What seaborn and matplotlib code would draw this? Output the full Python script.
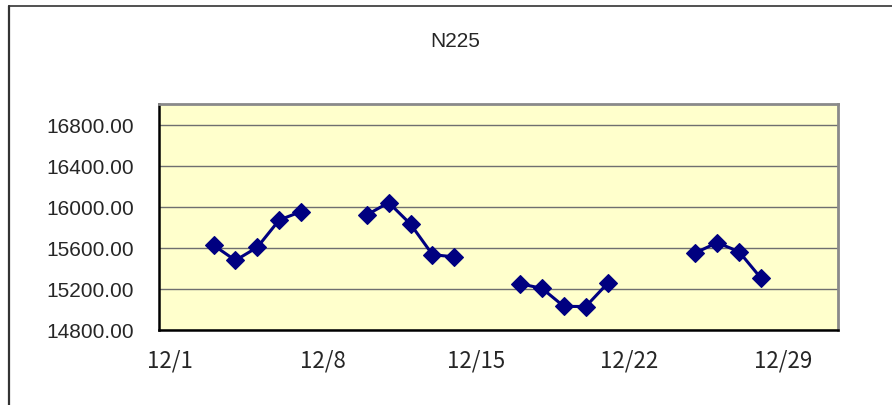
import pandas as pd
import numpy as np
import matplotlib
matplotlib.use("Agg")
import matplotlib.pyplot as plt
import matplotlib.transforms as mtransforms
import seaborn as sns

# Nikkei 225 closes, December (blank = no trading)
dates = pd.date_range("2007-12-01", "2007-12-31", freq="D")
closes = [np.nan, np.nan,
          15628, 15480, 15608, 15874, 15956, np.nan, np.nan,
          15924, 16044, 15833, 15536, 15514, np.nan, np.nan,
          15252, 15207, 15031, 15030, 15257, np.nan, np.nan, np.nan,
          15553, 15653, 15565, 15307, np.nan, np.nan, np.nan]
y_ticks = [14800, 15200, 15600, 16000, 16400, 16800]
x_ticks = pd.to_datetime(["2007-12-01", "2007-12-08", "2007-12-15",
                          "2007-12-22", "2007-12-29"])
x_labels = ["12/1", "12/8", "12/15", "12/22", "12/29"]

sns.set_style("white")
plt.rcParams["font.family"] = ["Liberation Sans", "DejaVu Sans"]

df = pd.DataFrame({"date": dates + pd.Timedelta(hours=12), "close": closes})

fig = plt.figure(figsize=(8.92, 4.05), dpi=100)
ax = fig.add_axes([0.178, 0.185, 0.761, 0.558])
ax.set_facecolor("#FFFFCC")

# plot segment by segment so the weekend gaps stay open
seg = df["close"].isna().cumsum()
for _, part in df.dropna().groupby(seg[df["close"].notna()]):
    sns.lineplot(data=part, x="date", y="close", ax=ax, color="#000080",
                 linewidth=2.2, marker="D", markersize=9,
                 markeredgecolor="#000080", markeredgewidth=0.8)

ax.set_xlim(pd.Timestamp("2007-12-01"), pd.Timestamp("2008-01-01"))
ax.set_ylim(14800, 17005)
ax.set_yticks(y_ticks)
ax.set_yticklabels([f"{v:.2f}" for v in y_ticks], fontsize=15)
ax.set_xticks(x_ticks)
ax.set_xticklabels(x_labels, fontsize=16,
                   family=["Noto Sans CJK JP", "DejaVu Sans"])
ax.tick_params(axis="both", direction="in", length=5, width=1,
               color="black")
ax.tick_params(axis="y", pad=18)
ax.tick_params(axis="x", pad=14)
# labels sit half a day to the right of the tick, like the original
shift = mtransforms.ScaledTranslation(0.11, 0, fig.dpi_scale_trans)
for lab in ax.get_xticklabels():
    lab.set_transform(lab.get_transform() + shift)
ax.grid(axis="y", color="#6f6f6f", linewidth=1)
ax.set_axisbelow(True)
ax.set_xlabel("")
ax.set_ylabel("")

ax.spines["left"].set_color("black")
ax.spines["bottom"].set_color("black")
ax.spines["left"].set_linewidth(1.8)
ax.spines["bottom"].set_linewidth(1.8)
ax.spines["top"].set_color("#8a8a8a")
ax.spines["right"].set_color("#8a8a8a")
ax.spines["top"].set_linewidth(2)
ax.spines["right"].set_linewidth(2)

fig.text(0.51, 0.898, "N225", ha="center", va="center", fontsize=15)

# chart area border (left and top edges visible)
fig.add_artist(plt.Line2D([9 / 892, 9 / 892], [0, 1 - 5.5 / 405],
                          color="#333333", linewidth=1.6))
fig.add_artist(plt.Line2D([9 / 892, 1], [1 - 5.5 / 405, 1 - 5.5 / 405],
                          color="#333333", linewidth=1.2))

plt.savefig("out.png", dpi=100)
